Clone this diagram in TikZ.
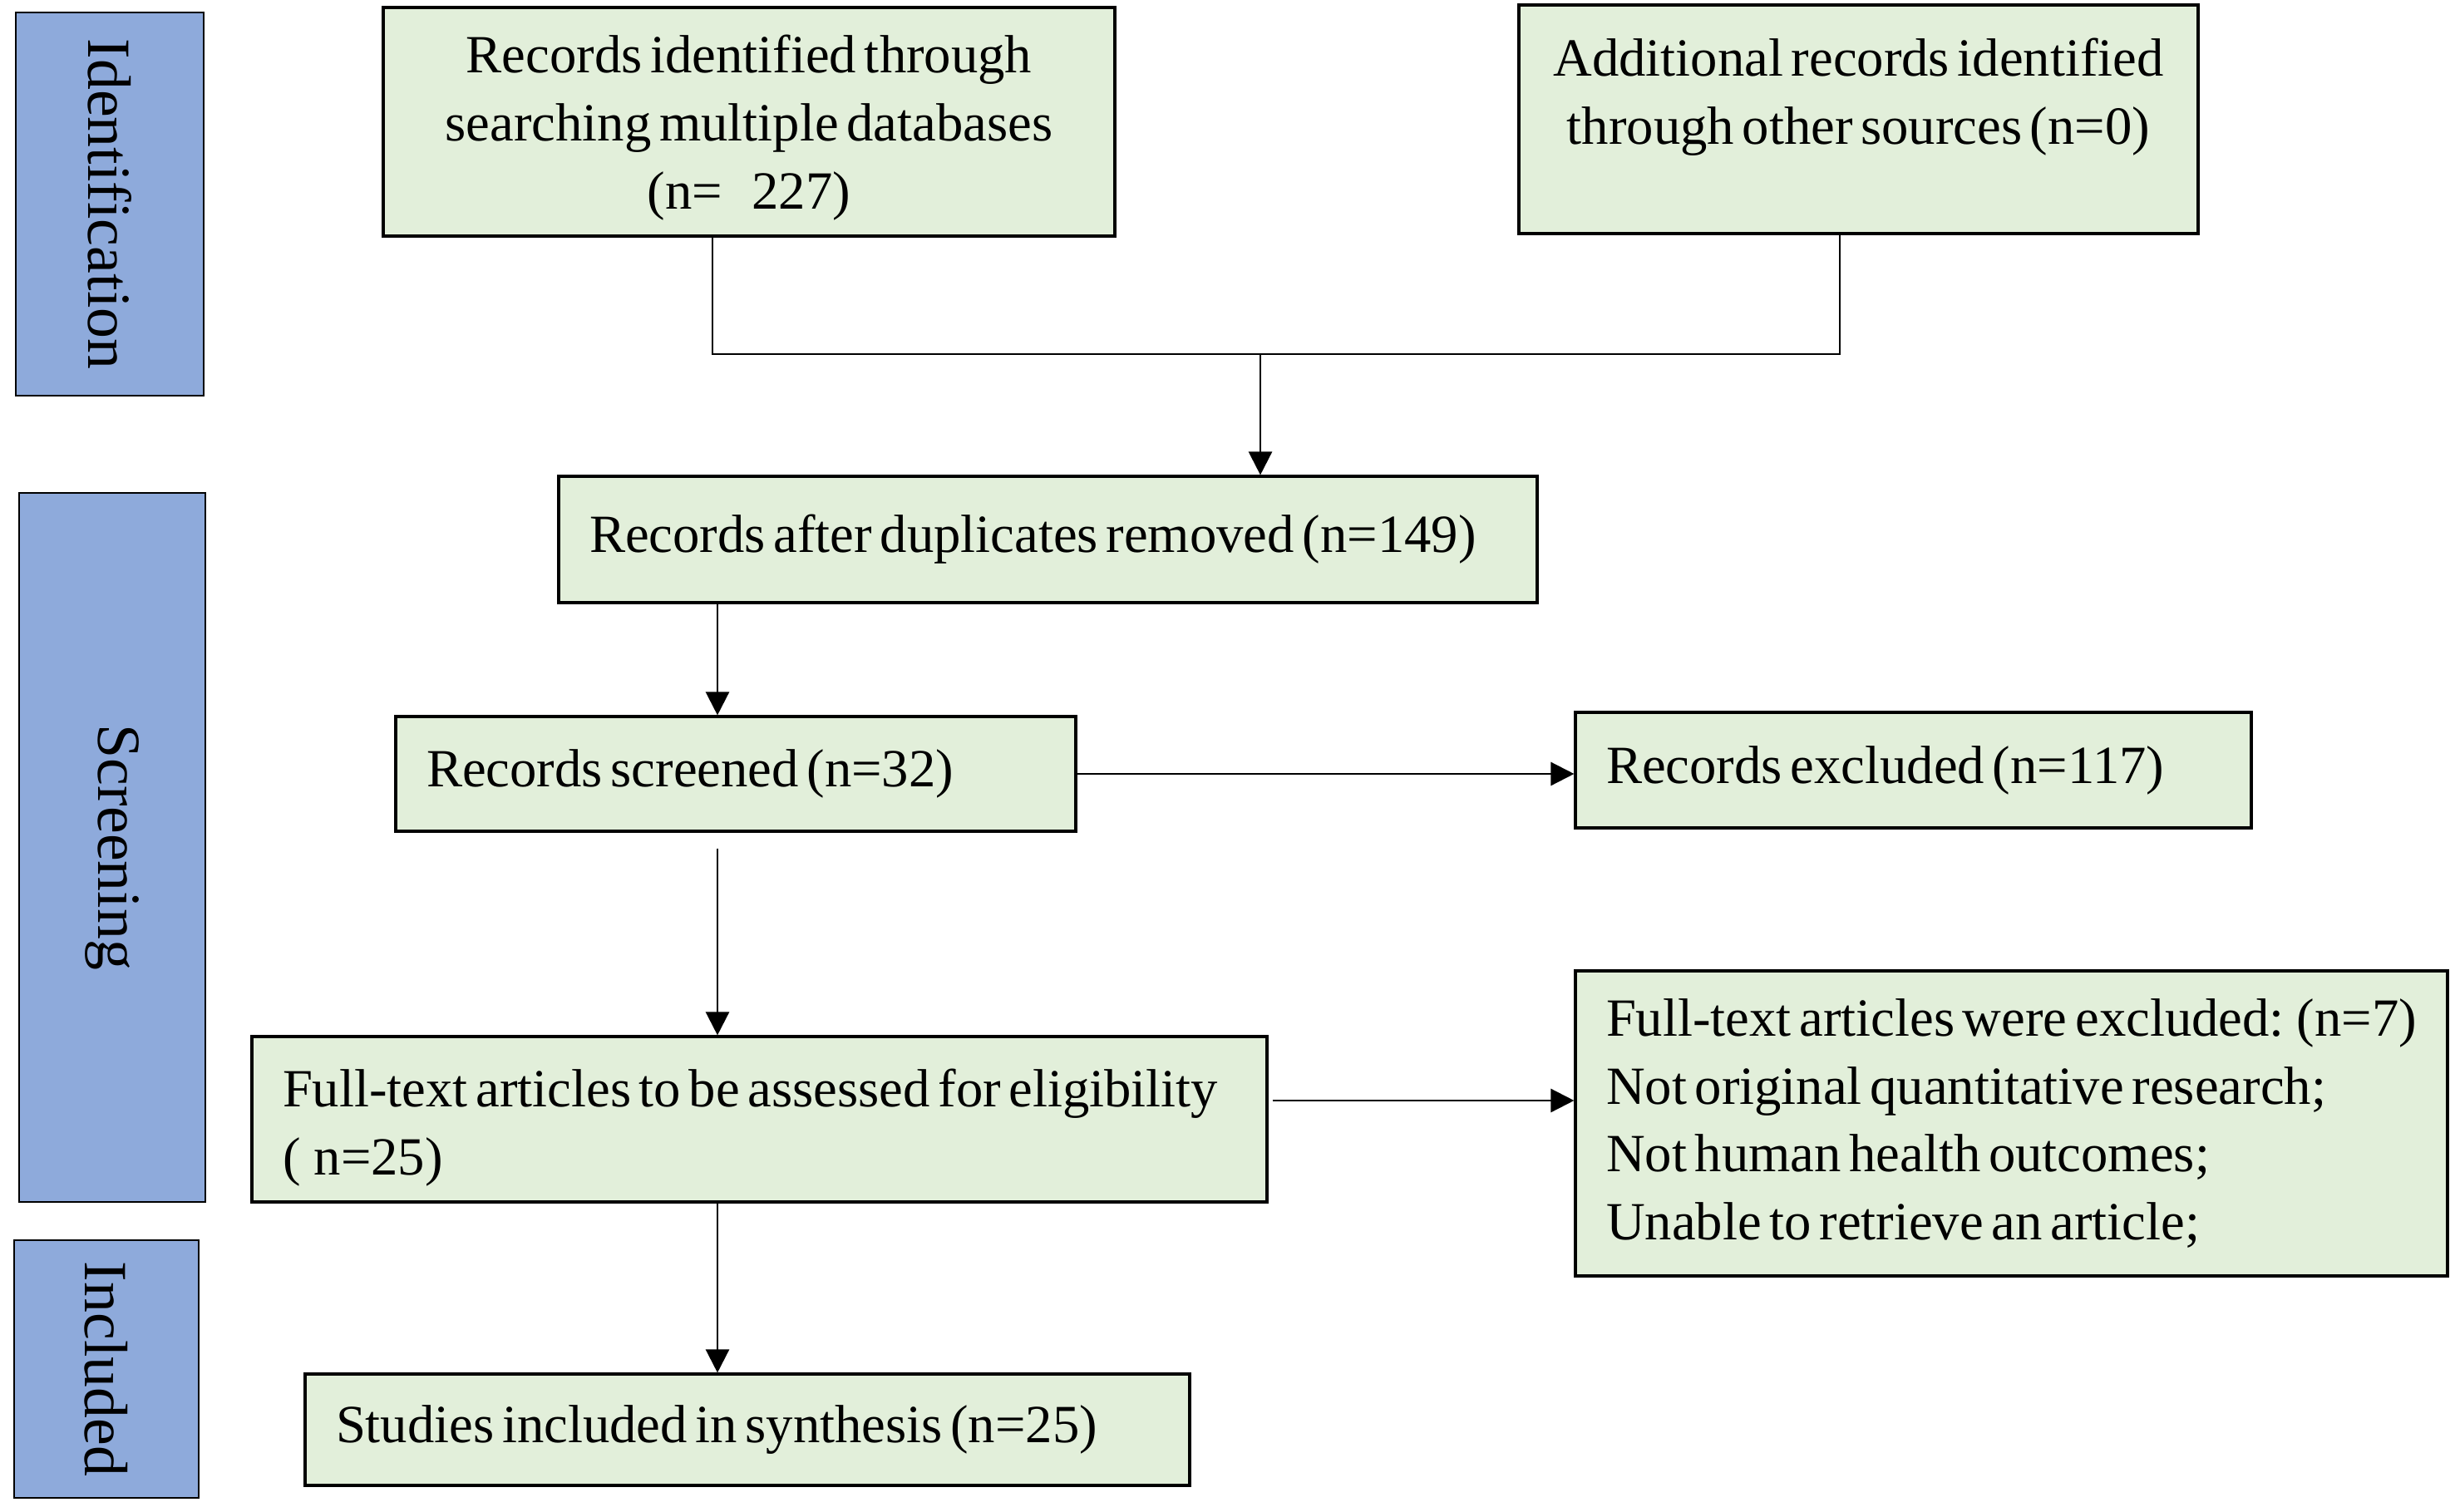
\documentclass[tikz,border=0pt]{standalone}
\usepackage{fontspec}
\setmainfont[WordSpace=0.6]{Liberation Serif}
\usetikzlibrary{arrows.meta}
\definecolor{phaseblue}{RGB}{142,170,219}
\definecolor{boxgreen}{RGB}{226,239,218}
\hyphenpenalty=10000
\exhyphenpenalty=10000

\begin{document}
\begin{tikzpicture}[font=\fontsize{18.4}{23.3}\selectfont, line width=0.7pt,
  phase/.style={draw, fill=phaseblue, rotate=-90, font=\fontsize{21}{24}\selectfont, inner sep=0pt},
  box/.style={draw, fill=boxgreen, line width=0.9pt, inner sep=0pt},
  lbox/.style={box, align=flush left, inner xsep=0.37cm},
  arr/.style={-{Triangle[length=2.8mm,width=2.8mm]}}]
  \useasboundingbox (0,0) rectangle (29.53,-18.19);

  % phases
  \node[phase, minimum width=4.61cm, minimum height=2.26cm] (ident) at (1.32,-2.455) {Identification};
  \node[phase, minimum width=8.53cm, minimum height=2.24cm] (scrn) at (1.35,-10.195) {Screening};
  \node[phase, minimum width=3.10cm, minimum height=2.22cm] (inclphase) at (1.28,-16.47) {Included};

  % boxes
  \node[box, align=center, minimum width=8.80cm, minimum height=2.75cm] (recid) at (9.01,-1.465)
  {\rule{0pt}{0.6cm}Records identified through\\
   searching multiple databases\\
   (n=\hspace{0.55em}227)};

  \node[box, align=center, minimum width=8.17cm, minimum height=2.75cm] (addrec) at (22.355,-1.435)
  {\rule{0pt}{0.6cm}Additional records identified\\
   through other sources (n=0)\\
   \mbox{}};

  \node[lbox, text width=11.03cm, minimum height=1.52cm] (dedup) at (12.605,-6.49)
  {Records after duplicates removed (n=149)};

  \node[lbox, text width=7.44cm, minimum height=1.38cm] (screen) at (8.85,-9.31)
  {Records screened (n=32)};

  \node[lbox, text width=7.39cm, minimum height=1.39cm] (excl) at (23.015,-9.265)
  {Records excluded (n=117)};

  \node[lbox, text width=11.47cm, minimum height=1.99cm] (fulltext) at (9.135,-13.465)
  {\rule{0pt}{0.66cm}\mbox{Full-text articles to be assessed for eligibility}\\
   (\hspace{0.25em}n=25)};

  \node[lbox, text width=9.75cm, minimum height=3.67cm] (ftexcl) at (24.195,-13.515)
  {\mbox{Full-text articles were excluded: (n=7)}\\
   Not original quantitative research;\\
   Not human health outcomes;\\
   Unable to retrieve an article;};

  \node[lbox, text width=9.90cm, minimum height=1.34cm] (synth) at (8.99,-17.2)
  {Studies included in synthesis (n=25)};

  % connectors
  \coordinate (ja) at (8.57,-4.26);
  \coordinate (jb) at (22.13,-4.26);
  \coordinate (join) at (15.16,-4.26);
  \coordinate (cx) at (8.63,0);
  \coordinate (fy) at (0,-13.24);

  \draw (recid.south -| ja) -- (ja) -- (jb) -- (addrec.south -| jb);
  \draw[arr] (join) -- (dedup.north -| join);
  \draw[arr] (dedup.south -| cx) -- (screen.north -| cx);
  \draw[arr] (screen.east) -- (screen.east -| excl.west);
  \draw[arr, shorten <=0.19cm] (screen.south -| cx) -- (fulltext.north -| cx);
  \draw[arr, shorten <=0.05cm] (fulltext.east |- fy) -- (ftexcl.west |- fy);
  \draw[arr] (fulltext.south -| cx) -- (synth.north -| cx);
\end{tikzpicture}
\end{document}
